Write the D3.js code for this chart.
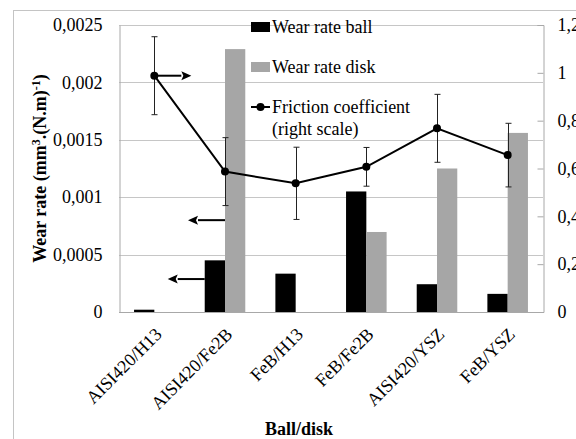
<!DOCTYPE html>
<html>
<head>
<meta charset="utf-8">
<script src="https://cdn.jsdelivr.net/npm/d3@7"></script>
<style>
  html, body { margin: 0; padding: 0; background: #fff; }
  svg { display: block; font-family: "Liberation Serif", "Times New Roman", serif; }
</style>
</head>
<body>
<svg id="chart" width="576" height="439"></svg>
<script>
// Ball/disk couples
const categories = ["AISI420/H13", "AISI420/Fe2B", "FeB/H13", "FeB/Fe2B", "AISI420/YSZ", "FeB/YSZ"];
// Wear rates, mm³/(N·m)
const wearBall = [0.00002, 0.00045, 0.000334, 0.00105, 0.000242, 0.000158];
const wearDisk = [0, 0.00229, 0, 0.000697, 0.00125, 0.00156];
// Friction coefficient (right scale) and its spread
const friction = [0.988, 0.587, 0.538, 0.607, 0.768, 0.656];
const frictionErr = [0.163, 0.142, 0.151, 0.081, 0.142, 0.133];
// Axis ticks
const leftTicks = [0, 0.0005, 0.001, 0.0015, 0.002, 0.0025];
const rightTicks = [0, 0.2, 0.4, 0.6, 0.8, 1, 1.2];
// Series names
const seriesNames = ["Wear rate ball", "Wear rate disk", "Friction coefficient", "(right scale)"];
// Arrows telling which scale a series reads on
const scaleArrows = [
  { cat: "AISI420/H13", axis: "right", value: 0.988, dir: 1 },
  { cat: "AISI420/Fe2B", axis: "left", value: 0.0008, dir: -1 },
  { cat: "AISI420/Fe2B", axis: "left", value: 0.000287, dir: -1 }
];

const svg = d3.select("#chart");
const m = { left: 119, right: 543, top: 25, bottom: 312 };

const fmt = d => String(d).replace(".", ",");

const x = d3.scaleBand().domain(categories).range([m.left, m.right]).padding(0);
const yL = d3.scaleLinear().domain([0, 0.0025]).range([m.bottom, m.top]);
const yR = d3.scaleLinear().domain([0, 1.2]).range([m.bottom, m.top]);
const barW = x.bandwidth() * 0.287;
const cx = c => x(c) + x.bandwidth() / 2;

// chart frame
svg.append("rect").attr("x", 13.5).attr("y", 10.5).attr("width", 600).attr("height", 500)
  .attr("fill", "none").attr("stroke", "#c4c4c4");

// gridlines
svg.append("g").selectAll("line").data(leftTicks).join("line")
  .attr("x1", m.left).attr("x2", m.right)
  .attr("y1", d => Math.round(yL(d)) + 0.5).attr("y2", d => Math.round(yL(d)) + 0.5)
  .attr("stroke", "#c6c6c6");

// left axis
const gL = svg.append("g").attr("transform", `translate(${m.left + 0.5},0)`)
  .call(d3.axisLeft(yL).tickValues(leftTicks).tickFormat(fmt).tickSize(0).tickPadding(17));
gL.select(".domain").attr("stroke", "#a8a8a8");
gL.selectAll("text").attr("font-size", 18).attr("fill", "#000")
  .style("font-family", "Liberation Serif");

// right axis
const gR = svg.append("g").attr("transform", `translate(${m.right + 0.5},0)`)
  .call(d3.axisRight(yR).tickValues(rightTicks).tickFormat(fmt).tickSize(-6).tickPadding(14));
gR.select(".domain").attr("stroke", "#a8a8a8");
gR.selectAll(".tick line").attr("stroke", "#a8a8a8");
gR.selectAll("text").attr("font-size", 18).attr("fill", "#000")
  .style("font-family", "Liberation Serif");

// bottom axis line
svg.append("line").attr("x1", m.left).attr("x2", m.right + 1)
  .attr("y1", m.bottom + 0.5).attr("y2", m.bottom + 0.5).attr("stroke", "#a8a8a8");

// bars
svg.append("g").selectAll("rect").data(categories).join("rect")
  .attr("x", c => cx(c) - barW).attr("width", barW)
  .attr("y", (c, i) => yL(wearBall[i])).attr("height", (c, i) => m.bottom - yL(wearBall[i]))
  .attr("fill", "#000");
svg.append("g").selectAll("rect").data(categories).join("rect")
  .attr("x", c => cx(c)).attr("width", barW)
  .attr("y", (c, i) => yL(wearDisk[i])).attr("height", (c, i) => m.bottom - yL(wearDisk[i]))
  .attr("fill", "#a6a6a6");

// error bars
const eb = svg.append("g").attr("stroke", "#222").attr("stroke-width", 1);
categories.forEach((c, i) => {
  const X = Math.round(cx(c)) + 0.5;
  const t = yR(friction[i] + frictionErr[i]), b = yR(friction[i] - frictionErr[i]);
  eb.append("line").attr("x1", X).attr("x2", X).attr("y1", t).attr("y2", b);
  eb.append("line").attr("x1", X - 3).attr("x2", X + 3).attr("y1", t).attr("y2", t);
  eb.append("line").attr("x1", X - 3).attr("x2", X + 3).attr("y1", b).attr("y2", b);
});

// friction line
const line = d3.line().x(d => cx(d.c)).y(d => yR(d.v));
svg.append("path").datum(categories.map((c, i) => ({ c, v: friction[i] })))
  .attr("d", line).attr("fill", "none").attr("stroke", "#000").attr("stroke-width", 2);
svg.append("g").selectAll("circle").data(categories).join("circle")
  .attr("cx", c => cx(c)).attr("cy", (c, i) => yR(friction[i])).attr("r", 4).attr("fill", "#000");

// scale arrows
const arrowG = svg.append("g");
scaleArrows.forEach(a => {
  const y = a.axis === "right" ? yR(a.value) : yL(a.value);
  const x0 = a.dir > 0 ? cx(a.cat) : (a.value > 0.0005 ? cx(a.cat) : cx(a.cat) - barW);
  const x1 = x0 + a.dir * 37;
  const tipBack = x1 - a.dir * 10;
  arrowG.append("line").attr("x1", x0).attr("x2", tipBack).attr("y1", y).attr("y2", y)
    .attr("stroke", "#000").attr("stroke-width", 2);
  arrowG.append("path")
    .attr("d", `M${x1},${y} L${tipBack},${y - 4.5} L${tipBack + a.dir * 2},${y} L${tipBack},${y + 4.5} Z`)
    .attr("fill", "#000");
});

// category labels
svg.append("g").selectAll("text").data(categories).join("text")
  .attr("transform", c => `translate(${cx(c) + 4},${m.bottom + 19}) rotate(-45)`)
  .attr("text-anchor", "end").attr("dy", "0.35em")
  .attr("font-size", 18).text(d => d);

// axis titles
svg.append("text").attr("transform", `translate(46,${(m.top + m.bottom) / 2}) rotate(-90)`)
  .attr("text-anchor", "middle").attr("font-size", 18).attr("font-weight", "bold")
  .html('Wear rate (mm<tspan dy="-6" font-size="12">3</tspan><tspan dy="6">.(N.m)</tspan><tspan dy="-6" font-size="12">-1</tspan><tspan dy="6">)</tspan>');
svg.append("text").attr("x", 299).attr("y", 435).attr("text-anchor", "middle")
  .attr("font-size", 18).attr("font-weight", "bold").text("Ball/disk");

// legend
const lg = svg.append("g");
const lx = 251, lw = 19;
lg.append("rect").attr("x", lx).attr("y", 22).attr("width", lw).attr("height", 10).attr("fill", "#000");
lg.append("rect").attr("x", lx).attr("y", 62).attr("width", lw).attr("height", 10).attr("fill", "#a6a6a6");
lg.append("line").attr("x1", lx).attr("x2", lx + lw).attr("y1", 107).attr("y2", 107)
  .attr("stroke", "#000").attr("stroke-width", 2);
lg.append("circle").attr("cx", lx + lw / 2).attr("cy", 107).attr("r", 4);
const ly = [33, 73, 113, 135];
seriesNames.forEach((s, i) => {
  lg.append("text").attr("x", 272).attr("y", ly[i]).attr("font-size", 18).text(s);
});
</script>
</body>
</html>
